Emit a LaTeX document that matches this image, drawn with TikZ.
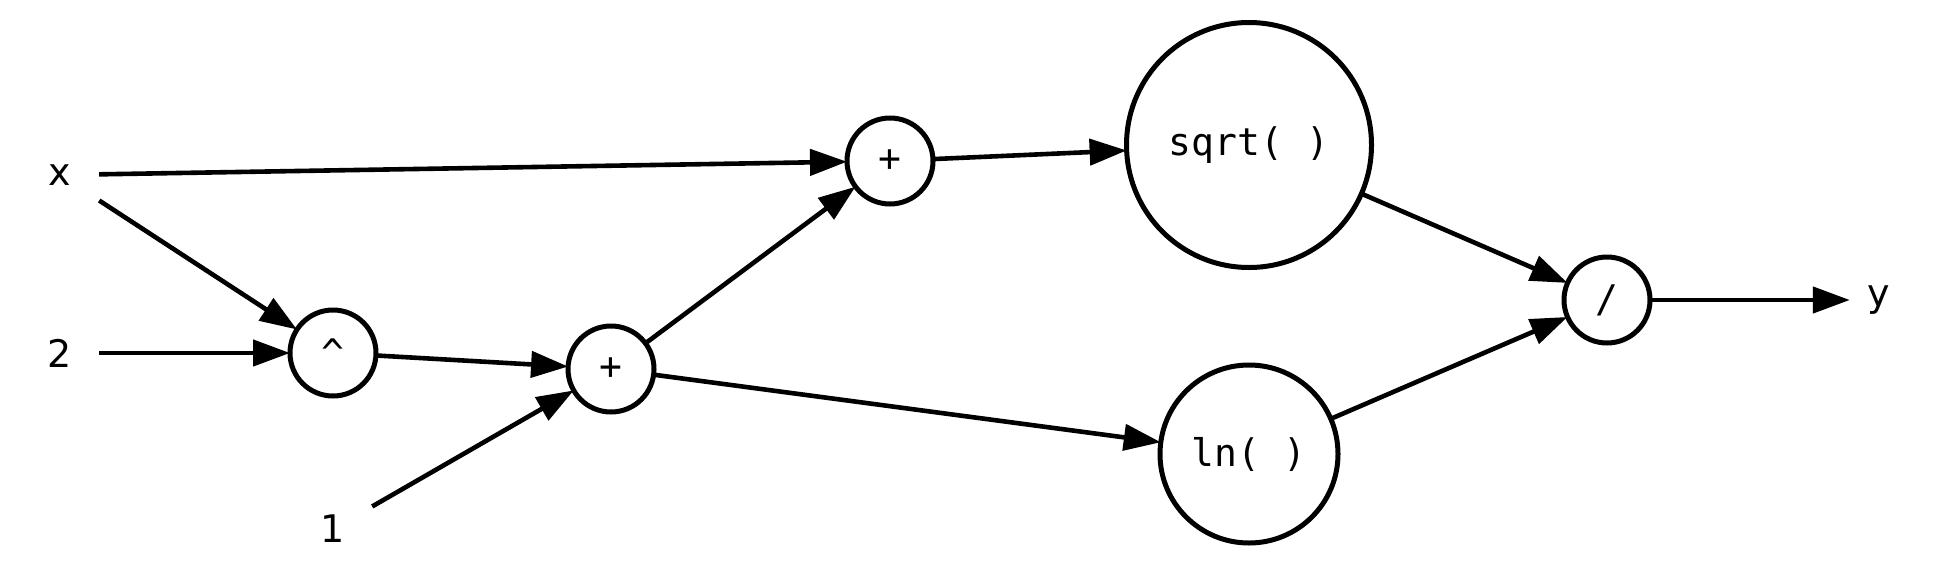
\documentclass[tikz,border=0pt]{standalone}
\usepackage{fontspec}
\setmainfont{DejaVu Sans}
\newfontfamily\opmono{DejaVu Sans Mono}
\usetikzlibrary{arrows.meta}
\begin{document}
\begin{tikzpicture}[x=1pt,y=-1pt,
  termnode/.style={inner sep=0pt, minimum width=78pt, minimum height=52pt,
    font=\fontsize{38pt}{45pt}\selectfont},
  opnode/.style={circle, draw, line width=5pt, inner sep=0pt, outer sep=0pt,
    font=\fontsize{38pt}{45pt}\selectfont\opmono},
  conn/.style={line width=4.6pt, -{Triangle[length=37pt,width=26pt]}}]
\useasboundingbox (0,0) rectangle (1940,584);
% terminal labels
\node[termnode] (x) at (60,175) {x};
\node[termnode] (two) at (60,353) {2};
\node[termnode] (one) at (333,529) {1};
\node[termnode, minimum width=58pt] (y) at (1879,300) {y};
% operator nodes
\node[opnode, minimum size=86pt] (pow) at (333,353) {\textasciicircum};
\node[opnode, minimum size=86pt] (plusb) at (611,369) {+};
\node[opnode, minimum size=86pt] (plust) at (890,161) {+};
\node[opnode, minimum size=245pt] (sqrt) at (1249,145) {sqrt( )};
\node[opnode, minimum size=178pt] (ln) at (1249,454) {ln( )};
\node[opnode, minimum size=86pt] (div) at (1607,300) {/};
% connectors
\draw[conn] (x) -- (plust);
\draw[conn] (x) -- (pow);
\draw[conn] (two) -- (pow);
\draw[conn] (pow) -- (plusb);
\draw[conn] (one) -- (plusb);
\draw[conn] (plusb) -- (plust);
\draw[conn] (plust) -- (sqrt);
\draw[conn] (plusb) -- (ln);
\draw[conn] (sqrt) -- (div);
\draw[conn] (ln) -- (div);
\draw[conn] (div) -- (y);
\end{tikzpicture}
\end{document}
